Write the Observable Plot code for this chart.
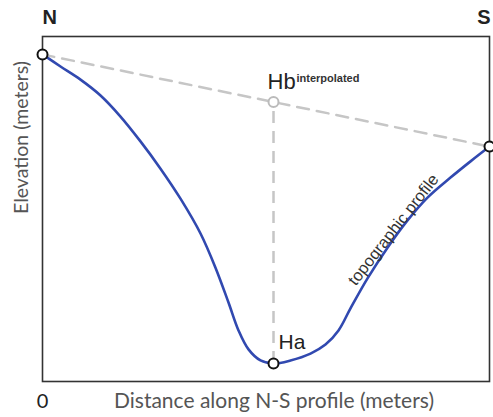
<!DOCTYPE html>
<html>
<head>
<meta charset="utf-8">
<script src="https://cdn.jsdelivr.net/npm/d3@7"></script>
<script src="https://cdn.jsdelivr.net/npm/@observablehq/plot@0.6"></script>
<style>
  html, body { margin: 0; padding: 0; background: #fff; }
  svg { display: block; }
</style>
</head>
<body>
<div id="chart"></div>
<script>
// Topographic profile (distance 0–100 along N–S, elevation 0–100, arbitrary units)
const profileX = [0, 4.03, 8.50, 12.98, 17.45, 21.92, 26.40, 30.87, 35.35, 38.70, 41.61, 43.85, 46.09, 48.77, 51.68, 55.48, 59.96, 63.31, 66.22, 68.90, 72.71, 77.18, 81.66, 86.13, 91.28, 95.75, 100];
const profileY = [94.8, 91.3, 87.5, 82.9, 76.8, 69.6, 61.7, 53.0, 42.9, 33.0, 22.9, 14.8, 9.3, 6.1, 5.2, 6.1, 8.1, 10.7, 14.8, 21.2, 29.9, 38.8, 46.7, 53.3, 59.1, 63.8, 68.1];

const endNames = ["N", "S"];
const endX = [0, 100];
const endY = [94.8, 68.1];

const lowName = "Ha";
const lowX = 51.68;
const lowY = 5.2;

const interpName = "Hb";
const interpSup = "interpolated";
const curveLabel = "topographic profile";
const xLabel = "Distance along N-S profile (meters)";
const yLabel = "Elevation (meters)";
const xTicks = [0];

const profile = profileX.map((x, i) => ({x, y: profileY[i]}));
const ends = endNames.map((name, i) => ({name, x: endX[i], y: endY[i]}));
const hbY = endY[0] + (endY[1] - endY[0]) * (lowX - endX[0]) / (endX[1] - endX[0]);
const low = [{name: lowName, x: lowX, y: lowY}];
const interp = [{name: interpName, x: lowX, y: hbY}];
const labelPt = profile[21];

const helv = "Liberation Sans, Arial, Helvetica, sans-serif";
const cal = "Lato, Open Sans, sans-serif";
const dash = "12,8";
const gray = "#c6c6c6";

const chart = Plot.plot({
  width: 493,
  height: 417,
  marginLeft: 42,
  marginRight: 4,
  marginTop: 36,
  marginBottom: 36,
  x: {domain: [0, 100], axis: null},
  y: {domain: [0, 100], axis: null},
  style: {fontFamily: helv, background: "#fff"},
  marks: [
    Plot.line(ends, {x: "x", y: "y", stroke: gray, strokeWidth: 2.5, strokeDasharray: dash}),
    Plot.ruleX([lowX], {y1: lowY, y2: hbY, stroke: gray, strokeWidth: 2.5, strokeDasharray: dash}),
    Plot.line(profile, {x: "x", y: "y", curve: "catmull-rom", stroke: "#3149b0", strokeWidth: 2.6}),
    Plot.frame({stroke: "#333", strokeWidth: 1.6}),
    Plot.dot(interp, {x: "x", y: "y", r: 5, fill: "white", stroke: "#bbb", strokeWidth: 2}),
    Plot.dot(ends, {x: "x", y: "y", r: 5, fill: "white", stroke: "#111", strokeWidth: 2}),
    Plot.dot(low, {x: "x", y: "y", r: 5, fill: "white", stroke: "#111", strokeWidth: 2}),
    // N / S headers
    Plot.text(ends.slice(0, 1), {x: "x", y: () => 100, text: "name", fontWeight: "bold", fontSize: 20, fill: "#222", textAnchor: "start", dy: -19}),
    Plot.text(ends.slice(1), {x: "x", y: () => 100, text: "name", fontWeight: "bold", fontSize: 20, fill: "#222", textAnchor: "end", dy: -19, dx: 1}),
    // Hb interpolated
    Plot.text(interp, {x: "x", y: "y", text: "name", fontSize: 22, fill: "#222", textAnchor: "start", dx: -6, dy: -20}),
    Plot.text(interp, {x: "x", y: "y", text: () => interpSup, fontSize: 11, fontWeight: "bold", fill: "#333", textAnchor: "start", dx: 23, dy: -24}),
    // Ha
    Plot.text(low, {x: "x", y: "y", text: "name", fontSize: 21, fill: "#222", textAnchor: "start", dx: 5, dy: -21}),
    // curve label
    Plot.text([labelPt], {x: "x", y: "y", text: () => curveLabel, fontSize: 16.5, fill: "#333", rotate: -52, dx: 6, dy: -18}),
    // axes labels
    Plot.text(xTicks, {x: d => d, y: () => 0, text: d => String(d), fontFamily: cal, fontSize: 20, fill: "#222", dy: 20}),
    Plot.text([xLabel], {frameAnchor: "bottom", text: d => d, fontFamily: cal, fontSize: 21, fill: "#555", dx: 8, dy: 26}),
    Plot.text([yLabel], {frameAnchor: "left", text: d => d, fontFamily: cal, fontSize: 19.5, fill: "#555", rotate: -90, dx: -21, dy: 5})
  ]
});
document.getElementById("chart").appendChild(chart);
</script>
</body>
</html>
